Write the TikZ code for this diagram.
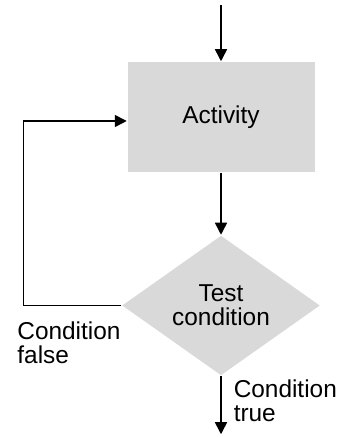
\documentclass[tikz,border=0pt]{standalone}
\usepackage{fontspec}
\setmainfont{Liberation Sans}
\usetikzlibrary{positioning}
\usetikzlibrary{arrows.meta}
\usetikzlibrary{shapes}
\tikzset{act node/.style={rectangle,fill=black!15,minimum width=93.5pt,minimum height=55pt,inner sep=0pt},
         test node/.style={diamond,fill=black!15,minimum width=99pt,minimum height=70pt,inner sep=0pt,aspect=1.41,align=center},
         label node/.style={inner sep=0pt,align=left},}

\begin{document}
\begin{tikzpicture}[->, >={Triangle[length=6pt,width=6pt]}, x=0.5pt, y=0.5pt, line width=0.75pt, font=\fontsize{12.2pt}{12pt}\selectfont]
	\useasboundingbox (0,0) rectangle (339,438);
	\node[act node] (act) at (221,321) {Activity};
	\node[test node] (test) [below = 31pt of act] {Test\\condition};
	\coordinate[above = 28pt of act] (in);
	\coordinate[below = 29pt of test] (out);
	\node[label node, anchor=north east] (false) at ([yshift=-8pt]test.west) {Condition\\false};
	\node[label node, anchor=north west] (true) at ([xshift=6pt,yshift=-1.5pt]test.south) {Condition\\true};

	\draw (in) -- (act);
	\draw (act) -- (test);
	\draw (test) -- (out);
	\draw (test.west) -- ++(-49pt,0) |- ([yshift=-2pt]act.west);
\end{tikzpicture}
\end{document}
